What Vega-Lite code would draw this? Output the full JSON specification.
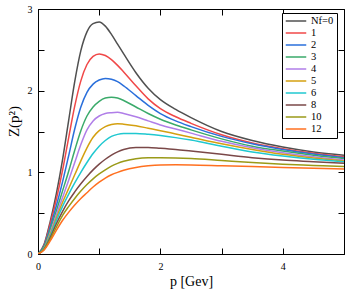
{
  "$schema": "https://vega.github.io/schema/vega-lite/v6.json",
  "width": 306,
  "height": 245,
  "autosize": {"type": "none"},
  "padding": {"left": 38, "top": 9, "right": 13, "bottom": 40},
  "background": "white",
  "config": {
    "font": "Liberation Serif",
    "view": {"stroke": "black", "strokeWidth": 1},
    "axis": {
      "grid": false,
      "domainColor": "black",
      "tickColor": "black",
      "labelColor": "black",
      "titleColor": "black",
      "labelFont": "Liberation Serif",
      "titleFont": "Liberation Serif",
      "labelFontSize": 10,
      "titleFontSize": 14,
      "titleFontWeight": "normal",
      "tickSize": -6,
      "labelFlush": false,
      "labelOverlap": false
    }
  },
  "data": {
    "values": [
      {"p": 0, "Nf=0": 0, "1": 0, "2": 0, "3": 0, "4": 0, "5": 0, "6": 0, "8": 0, "10": 0, "12": 0},
      {"p": 0.1, "Nf=0": 0.12, "1": 0.11, "2": 0.1, "3": 0.09, "4": 0.07, "5": 0.07, "6": 0.065, "8": 0.06, "10": 0.055, "12": 0.05},
      {"p": 0.2, "Nf=0": 0.4, "1": 0.37, "2": 0.33, "3": 0.3, "4": 0.26, "5": 0.24, "6": 0.22, "8": 0.2, "10": 0.18, "12": 0.16},
      {"p": 0.3, "Nf=0": 0.74, "1": 0.67, "2": 0.59, "3": 0.53, "4": 0.48, "5": 0.44, "6": 0.41, "8": 0.37, "10": 0.33, "12": 0.29},
      {"p": 0.4, "Nf=0": 1.15, "1": 1.02, "2": 0.88, "3": 0.77, "4": 0.69, "5": 0.63, "6": 0.58, "8": 0.52, "10": 0.47, "12": 0.41},
      {"p": 0.5, "Nf=0": 1.63, "1": 1.42, "2": 1.2, "3": 1.01, "4": 0.9, "5": 0.8, "6": 0.73, "8": 0.65, "10": 0.58, "12": 0.51},
      {"p": 0.6, "Nf=0": 2.11, "1": 1.81, "2": 1.53, "3": 1.27, "4": 1.12, "5": 0.97, "6": 0.87, "8": 0.76, "10": 0.68, "12": 0.6},
      {"p": 0.7, "Nf=0": 2.49, "1": 2.12, "2": 1.8, "3": 1.51, "4": 1.34, "5": 1.14, "6": 1.0, "8": 0.86, "10": 0.77, "12": 0.68},
      {"p": 0.8, "Nf=0": 2.72, "1": 2.32, "2": 1.98, "3": 1.69, "4": 1.52, "5": 1.3, "6": 1.12, "8": 0.95, "10": 0.85, "12": 0.75},
      {"p": 0.9, "Nf=0": 2.82, "1": 2.42, "2": 2.08, "3": 1.8, "4": 1.63, "5": 1.43, "6": 1.23, "8": 1.03, "10": 0.92, "12": 0.82},
      {"p": 1.0, "Nf=0": 2.84, "1": 2.45, "2": 2.13, "3": 1.87, "4": 1.69, "5": 1.51, "6": 1.32, "8": 1.1, "10": 0.98, "12": 0.88},
      {"p": 1.1, "Nf=0": 2.79, "1": 2.43, "2": 2.15, "3": 1.91, "4": 1.72, "5": 1.56, "6": 1.39, "8": 1.16, "10": 1.03, "12": 0.93},
      {"p": 1.2, "Nf=0": 2.69, "1": 2.38, "2": 2.14, "3": 1.92, "4": 1.73, "5": 1.585, "6": 1.44, "8": 1.21, "10": 1.075, "12": 0.97},
      {"p": 1.3, "Nf=0": 2.57, "1": 2.31, "2": 2.11, "3": 1.91, "4": 1.735, "5": 1.595, "6": 1.465, "8": 1.25, "10": 1.11, "12": 1.0},
      {"p": 1.4, "Nf=0": 2.45, "1": 2.23, "2": 2.06, "3": 1.88, "4": 1.72, "5": 1.59, "6": 1.475, "8": 1.28, "10": 1.135, "12": 1.025},
      {"p": 1.6, "Nf=0": 2.22, "1": 2.06, "2": 1.94, "3": 1.8, "4": 1.68, "5": 1.57, "6": 1.475, "8": 1.305, "10": 1.165, "12": 1.06},
      {"p": 1.8, "Nf=0": 2.03, "1": 1.9, "2": 1.82, "3": 1.72, "4": 1.63, "5": 1.54, "6": 1.465, "8": 1.305, "10": 1.178, "12": 1.08},
      {"p": 2.0, "Nf=0": 1.89, "1": 1.78, "2": 1.72, "3": 1.65, "4": 1.58, "5": 1.51, "6": 1.45, "8": 1.295, "10": 1.18, "12": 1.09},
      {"p": 2.25, "Nf=0": 1.77, "1": 1.68, "2": 1.63, "3": 1.58, "4": 1.53, "5": 1.47, "6": 1.425, "8": 1.28, "10": 1.177, "12": 1.092},
      {"p": 2.5, "Nf=0": 1.67, "1": 1.6, "2": 1.56, "3": 1.52, "4": 1.48, "5": 1.43, "6": 1.395, "8": 1.26, "10": 1.17, "12": 1.09},
      {"p": 3.0, "Nf=0": 1.5, "1": 1.46, "2": 1.44, "3": 1.41, "4": 1.38, "5": 1.35, "6": 1.32, "8": 1.22, "10": 1.145, "12": 1.08},
      {"p": 3.5, "Nf=0": 1.39, "1": 1.36, "2": 1.35, "3": 1.32, "4": 1.3, "5": 1.28, "6": 1.25, "8": 1.18, "10": 1.12, "12": 1.07},
      {"p": 4.0, "Nf=0": 1.31, "1": 1.29, "2": 1.28, "3": 1.26, "4": 1.24, "5": 1.22, "6": 1.2, "8": 1.15, "10": 1.1, "12": 1.06},
      {"p": 4.5, "Nf=0": 1.25, "1": 1.235, "2": 1.225, "3": 1.21, "4": 1.19, "5": 1.175, "6": 1.16, "8": 1.13, "10": 1.085, "12": 1.05},
      {"p": 5.0, "Nf=0": 1.21, "1": 1.19, "2": 1.18, "3": 1.17, "4": 1.15, "5": 1.14, "6": 1.13, "8": 1.11, "10": 1.07, "12": 1.04}
    ]
  },
  "transform": [
    {"fold": ["Nf=0", "1", "2", "3", "4", "5", "6", "8", "10", "12"], "as": ["nf", "z"]}
  ],
  "layer": [
    {
      "mark": {"type": "line", "strokeWidth": 1.5, "interpolate": "monotone", "clip": true},
      "encoding": {
        "x": {
          "field": "p", "type": "quantitative",
          "scale": {"domain": [0, 5], "nice": false, "zero": false},
          "axis": {
            "orient": "bottom",
            "values": [0, 1, 2, 3, 4, 5],
            "labelExpr": "datum.value % 2 == 0 ? format(datum.value, 'd') : ''",
            "labelPadding": 13,
            "title": "p [Gev]",
            "titlePadding": 3
          }
        },
        "y": {
          "field": "z", "type": "quantitative",
          "scale": {"domain": [0, 3], "nice": false},
          "axis": {
            "orient": "left",
            "values": [0, 0.5, 1, 1.5, 2, 2.5, 3],
            "labelExpr": "datum.value % 1 == 0 ? format(datum.value, 'd') : ''",
            "labelPadding": 12,
            "title": "Z(p²)",
            "titleFontSize": 15,
            "titleY": 112,
            "titlePadding": 6
          }
        },
        "color": {
          "field": "nf", "type": "nominal",
          "scale": {
            "domain": ["Nf=0", "1", "2", "3", "4", "5", "6", "8", "10", "12"],
            "range": ["#505050", "#f04848", "#2a6fdb", "#3aaa6a", "#b07ee8", "#d4a010", "#20c8d0", "#7a4848", "#9a9a18", "#ff7020"]
          },
          "legend": {
            "title": null,
            "orient": "none",
            "legendX": 244,
            "legendY": 4,
            "symbolType": "stroke",
            "symbolSize": 420,
            "symbolStrokeWidth": 1.5,
            "clipHeight": 10,
            "rowPadding": 1,
            "labelOffset": 4,
            "labelFontSize": 10.5,
            "labelFont": "Liberation Serif",
            "labelColor": "black",
            "padding": 3,
            "strokeColor": "black",
            "fillColor": "white"
          }
        }
      }
    },
    {
      "mark": {"type": "point", "opacity": 0},
      "encoding": {
        "x": {
          "field": "p", "type": "quantitative",
          "axis": {"orient": "top", "values": [0, 1, 2, 3, 4, 5], "labels": false, "title": null, "domain": false}
        },
        "y": {
          "field": "z", "type": "quantitative",
          "axis": {"orient": "right", "values": [0, 0.5, 1, 1.5, 2, 2.5, 3], "labels": false, "title": null, "domain": false}
        }
      }
    }
  ],
  "resolve": {"axis": {"x": "independent", "y": "independent"}}
}
